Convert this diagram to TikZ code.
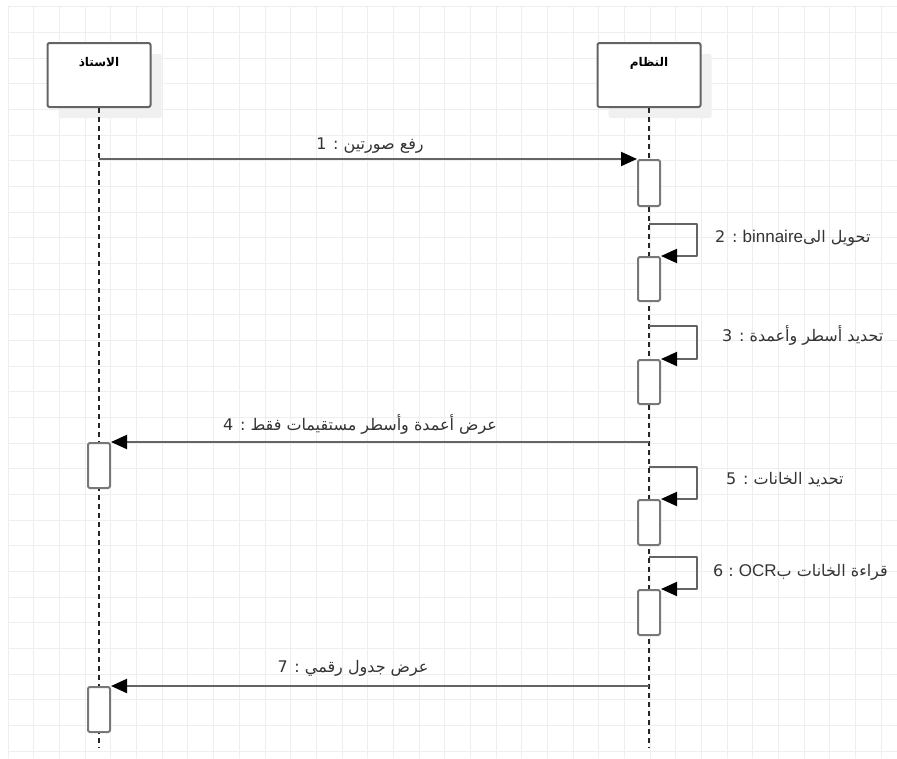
\documentclass[tikz,border=0pt]{standalone}
\usepackage{fontspec}
\setmainfont{Liberation Sans}
\newfontfamily\arabicfont[Script=Arabic]{DejaVu Sans}
\TeXXeTstate=1
\usepackage{tikz}
\usetikzlibrary{arrows.meta,positioning,shadows}
\definecolor{seqgrid}{RGB}{238,238,238}
\definecolor{seqshadow}{RGB}{240,240,240}
\definecolor{seqline}{RGB}{100,100,100}
\definecolor{seqbox}{RGB}{120,120,120}
\definecolor{seqtext}{RGB}{51,51,51}

\begin{document}
\begin{tikzpicture}[x=1pt,y=-1pt,line cap=round,line join=round,
 >={Triangle[length=16pt,width=14pt,color=black]},
 gridline/.style={seqgrid,line width=1pt},
 headbox/.style={draw=seqline,line width=2pt,fill=white,rounded corners=2pt,
  minimum width=103pt,minimum height=64pt,inner sep=0pt,
  drop shadow={shadow xshift=11pt,shadow yshift=-11pt,fill=seqshadow,opacity=1}},
 headtext/.style={font=\arabicfont\bfseries\fontsize{12}{14}\selectfont,
  text=black,inner sep=0pt},
 actbox/.style={draw=seqbox,line width=2pt,fill=white,rounded corners=1.5pt,
  minimum width=22pt,inner sep=0pt,anchor=north},
 lifeline/.style={black!85,line width=1.4pt,line cap=butt,
  dash pattern=on 5pt off 4pt},
 msg/.style={seqline,line width=2pt,line cap=butt,->},
 msgtext/.style={font=\arabicfont\fontsize{16}{19}\selectfont,
  text=seqtext,inner sep=0pt}]
 \useasboundingbox (0,0) rectangle (897,758);
 \foreach \i in {0,...,34}
  \draw[gridline] ({8.3+25.67*\i},6.7) -- ({8.3+25.67*\i},758);
 \foreach \i in {0,...,29}
  \draw[gridline] (8.3,{6.7+25.67*\i}) -- (897,{6.7+25.67*\i});

 \node[headbox] (prof) at (99,75) {};
 \node[headbox] (sys) at (649,75) {};
 \node[headtext,below=15pt of prof.north] (proftxt) {\beginR الاستاذ\endR};
 \node[headtext,below=15pt of sys.north] (systxt) {\beginR النظام\endR};

 \coordinate (profend) at (99,748);
 \coordinate (sysend) at (649,748);
 \draw[lifeline] (prof.south) -- (profend);
 \draw[lifeline] (sys.south) -- (sysend);

 \node[actbox,minimum height=46pt] (act1) at (649,159) {};
 \node[actbox,minimum height=44pt] (act2) at (649,256) {};
 \node[actbox,minimum height=44pt] (act3) at (649,359) {};
 \node[actbox,minimum height=45pt] (act4) at (99,442) {};
 \node[actbox,minimum height=45pt] (act5) at (649,499) {};
 \node[actbox,minimum height=45pt] (act6) at (649,589) {};
 \node[actbox,minimum height=45pt] (act7) at (99,686) {};

 \coordinate (s2) at (649,224);
 \coordinate (s3) at (649,326);
 \coordinate (s5) at (649,467);
 \coordinate (s6) at (649,557);

 \draw[msg] (prof |- act1.north) -- (act1.north west);
 \foreach \n in {2,3,5,6}
  \draw[msg] (s\n) -- ++(48,0) |- (act\n.north east);
 \draw[msg] (sys |- act4.north) -- (act4.north east);
 \draw[msg] (sys |- act7.north) -- (act7.north east);

 \node[msgtext] (lbl1) at (370,146) {\beginR رفع صورتين : 1\endR};
 \node[msgtext,anchor=west] (lbl2) at (715,238)
  {\beginR تحويل الى\beginL{\rmfamily\fontsize{17}{19}\selectfont binnaire}\endL{} : 2\endR};
 \node[msgtext,anchor=west] (lbl3) at (722,335)
  {\beginR تحديد أسطر وأعمدة : 3\endR};
 \node[msgtext] (lbl4) at (360,424)
  {\beginR عرض أعمدة وأسطر مستقيمات فقط : 4\endR};
 \node[msgtext,anchor=west] (lbl5) at (726,480)
  {\beginR تحديد الخانات : 5\endR};
 \node[msgtext,anchor=west] (lbl6) at (713,572)
  {\beginR قراءة الخانات ب\beginL{\rmfamily\fontsize{17}{19}\selectfont OCR}\endL{} : 6\endR};
 \node[msgtext] (lbl7) at (353,668) {\beginR عرض جدول رقمي : 7\endR};
\end{tikzpicture}
\end{document}
